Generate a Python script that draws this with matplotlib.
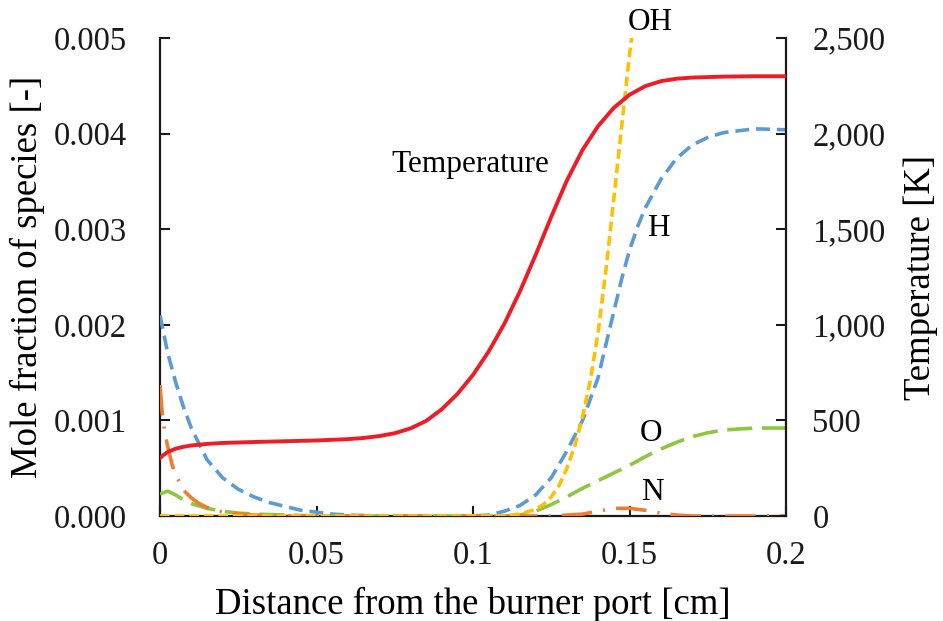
import matplotlib
matplotlib.use("Agg")
import matplotlib.pyplot as plt
from matplotlib.ticker import FuncFormatter

plt.rcParams['font.family'] = ['Liberation Serif', 'DejaVu Serif']
plt.rcParams['lines.scale_dashes'] = False

# ---- data ----
x_T = [0, 0.001, 0.0025, 0.005, 0.0075, 0.01, 0.015, 0.02, 0.03, 0.04, 0.05, 0.06,
       0.065, 0.07, 0.075, 0.08, 0.085, 0.09, 0.095, 0.1, 0.105, 0.11, 0.115, 0.12,
       0.125, 0.13, 0.135, 0.14, 0.145, 0.15, 0.155, 0.16, 0.165, 0.17, 0.18, 0.19, 0.2]
T = [303, 318, 335, 352, 362, 369, 377, 382, 387, 391, 395, 402,
     408, 418, 433, 458, 497, 558, 638, 738, 860, 1005, 1175, 1365,
     1565, 1755, 1915, 2040, 2135, 2203, 2248, 2274, 2287, 2293, 2298, 2300, 2300]

x_H = [0, 0.0025, 0.005, 0.0075, 0.01, 0.015, 0.02, 0.025, 0.03, 0.035, 0.04, 0.045,
       0.05, 0.055, 0.06, 0.07, 0.08, 0.09, 0.1, 0.105, 0.11, 0.115, 0.12, 0.125, 0.13,
       0.135, 0.14, 0.1425, 0.145, 0.1475, 0.15, 0.1525, 0.155, 0.16, 0.165, 0.17,
       0.175, 0.18, 0.19, 0.2]
H = [0.0021, 0.0017, 0.00140, 0.00114, 0.00092, 0.00059, 0.0004, 0.00028, 0.0002,
     0.00014, 0.0001, 0.00006, 0.00004, 0.00002, 0.00001, 0, 0, 0, 0, 0.00001, 0.00005,
     0.00011, 0.00022, 0.0004, 0.00068, 0.00100, 0.00145, 0.0018, 0.00214, 0.00248,
     0.00278, 0.00302, 0.00322, 0.00352, 0.00374, 0.00388, 0.00396, 0.00401, 0.00405,
     0.00404]

x_OH = [0, 0.1, 0.11, 0.115, 0.12, 0.1225, 0.125, 0.1275, 0.13, 0.1325, 0.135, 0.1375,
        0.14, 0.1425, 0.145, 0.1475, 0.15, 0.1512]
OH = [0, 0, 0, 0.00002, 0.00007, 0.00012, 0.0002, 0.00032, 0.0005, 0.00073, 0.00104,
      0.00142, 0.00193, 0.00258, 0.00332, 0.00408, 0.00482, 0.00515]

x_O = [0, 0.0025, 0.005, 0.0075, 0.01, 0.015, 0.02, 0.025, 0.03, 0.04, 0.05, 0.1, 0.11,
       0.115, 0.12, 0.125, 0.13, 0.135, 0.14, 0.145, 0.15, 0.155, 0.16, 0.165, 0.17,
       0.175, 0.18, 0.19, 0.2]
O = [0.00023, 0.00026, 0.00022, 0.00017, 0.00013, 0.00008, 0.00005, 0.00003, 0.00002,
     0.00001, 0, 0, 0, 0.00001, 0.00005, 0.00012, 0.0002, 0.00029, 0.00037, 0.00045,
     0.00053, 0.00062, 0.0007, 0.00077, 0.00083, 0.00087, 0.0009, 0.00092, 0.00092]

x_N = [0, 0.0007, 0.0015, 0.0025, 0.004, 0.0055, 0.0075, 0.01, 0.0125, 0.015, 0.02,
       0.025, 0.03, 0.04, 0.1, 0.125, 0.13, 0.135, 0.14, 0.145, 0.15, 0.155, 0.16,
       0.165, 0.17, 0.2]
N = [0.00137, 0.00108, 0.00088, 0.00072, 0.00052, 0.0004, 0.00027, 0.00019, 0.00013,
     0.00009, 0.00004, 0.00002, 0.00001, 0, 0, 0, 0.00001, 0.00002, 0.00005, 0.00008,
     0.00008, 0.00006, 0.00003, 0.00001, 0, 0]

y_ticks = [0, 0.001, 0.002, 0.003, 0.004, 0.005]
T_ticks = [0, 500, 1000, 1500, 2000, 2500]
x_ticks = [0, 0.05, 0.1, 0.15, 0.2]
x_ticklabels = ['0', '0.05', '0.1', '0.15', '0.2']

# ---- figure ----
fig = plt.figure(figsize=(9.43, 6.21), dpi=100)
ax = fig.add_axes([160/943, 1-516/621, (786-160)/943, (516-38)/621])
ax2 = ax.twinx()

lw = 2.6
ax.plot(x_H, H, color='#5B9BD5', lw=lw, linestyle=(0, (10, 5)), zorder=3)
ax.plot(x_O, O, color='#8DC63F', lw=lw, linestyle=(0, (18, 7)), zorder=3)
ax.plot(x_N, N, color='#ED7D31', lw=lw, linestyle=(0, (22, 8, 1.5, 8)), zorder=4)
ax.plot(x_OH, OH, color='#FFC000', lw=lw, linestyle=(0, (7, 3.5)), zorder=5)
ax2.plot(x_T, T, color='#EE1C25', lw=2.8, zorder=3)

ax.set_xlim(0, 0.2)
ax.set_ylim(0, 0.005)
ax2.set_ylim(0, 2500)
ax.set_xticks(x_ticks)
ax.set_xticklabels(x_ticklabels)
ax.set_yticks(y_ticks)
ax.yaxis.set_major_formatter(FuncFormatter(lambda v, p: f'{v:.3f}'))
ax2.set_yticks(T_ticks)
ax2.yaxis.set_major_formatter(FuncFormatter(lambda v, p: f'{int(v):,}'))

fs_tick = 23.5
for a in (ax, ax2):
    a.tick_params(direction='in', length=7, width=1.5, labelsize=fs_tick, colors='#1a1a1a')
    for s in a.spines.values():
        s.set_linewidth(1.6)
        s.set_color('#1a1a1a')
    a.spines['top'].set_visible(False)
ax.tick_params(axis='y', pad=24)
ax.tick_params(axis='x', pad=18)
ax2.tick_params(axis='y', pad=19)
ax.spines['right'].set_visible(False)
ax2.spines['left'].set_visible(False)
ax2.spines['bottom'].set_visible(False)

fs_lab = 26.5
ax.set_xlabel('Distance from the burner port [cm]', fontsize=fs_lab, labelpad=11)
ax.set_ylabel('Mole fraction of species [-]', fontsize=fs_lab, labelpad=6)
ax2.set_ylabel('Temperature [K]', fontsize=fs_lab, labelpad=13)

fs_ann = 22.5
ax.text(0.1565, 0.00516, 'OH', fontsize=fs_ann, ha='center', va='center')
ax.text(0.0990, 0.00368, 'Temperature', fontsize=fs_ann, ha='center', va='center')
ax.text(0.1591, 0.00301, 'H', fontsize=fs_ann, ha='center', va='center')
ax.text(0.1569, 0.00086, 'O', fontsize=fs_ann, ha='center', va='center')
ax.text(0.1572, 0.00025, 'N', fontsize=fs_ann, ha='center', va='center')

fig.savefig('out.png', dpi=100)
